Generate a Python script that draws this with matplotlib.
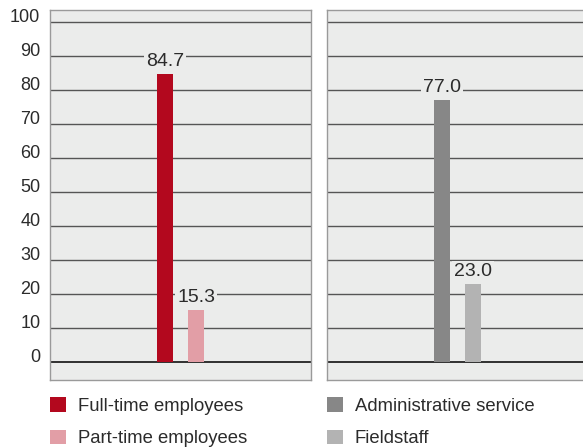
import matplotlib.pyplot as plt
from matplotlib.patches import Patch

plt.rcParams["font.family"] = ["Liberation Sans", "DejaVu Sans"]
plt.rcParams["font.size"] = 13
plt.rcParams["text.color"] = "#2b2b2b"

# employment type split (%)
left_labels = ["Full-time employees", "Part-time employees"]
left_values = [84.7, 15.3]
left_colors = ["#b3081e", "#e29ea6"]

# staff function split (%)
right_labels = ["Administrative service", "Fieldstaff"]
right_values = [77.0, 23.0]
right_colors = ["#878787", "#b3b3b3"]

y_ticks = [0, 10, 20, 30, 40, 50, 60, 70, 80, 90, 100]

PANEL_BG = "#ebeceb"
W, H = 583, 448

fig = plt.figure(figsize=(W / 100, H / 100), dpi=100)
fig.patch.set_facecolor("white")


def panel(x0, labels, values, colors, show_ticks):
    ax = fig.add_axes([x0 / W, (H - 380) / H, 261 / W, 370 / H])
    ax.set_facecolor(PANEL_BG)
    ax.set_xlim(-3.72, 4.70)
    ax.set_ylim(-5.3, 103.5)
    for t in y_ticks:
        ax.axhline(t, color="#111111" if t == 0 else "#555555",
                   lw=1.2 if t == 0 else 1.0, zorder=1)
    xs = range(len(values))
    ax.bar(xs, values, width=0.52, color=colors, zorder=2)
    for x, v in zip(xs, values):
        ax.annotate(f"{v:.1f}", (x, v), xytext=(0, 9), textcoords="offset points",
                    ha="center", va="center", fontsize=14, zorder=3,
                    bbox=dict(boxstyle="square,pad=0.1", facecolor=PANEL_BG,
                              edgecolor="none"))
    for s in ax.spines.values():
        s.set_color("#9a9a9a")
        s.set_linewidth(1.0)
    ax.set_xticks([])
    ax.tick_params(axis="y", length=0, pad=7)
    if show_ticks:
        ax.set_yticks(y_ticks)
        ax.set_yticklabels([str(t) for t in y_ticks])
        for lbl in ax.get_yticklabels():
            lbl.set_va("baseline")
            lbl.set_color("#2b2b2b")
    else:
        ax.set_yticks([])
    handles = [Patch(facecolor=c, label=l) for c, l in zip(colors, labels)]
    ax.legend(handles=handles, loc="upper left", bbox_to_anchor=(0, -0.047),
              frameon=False, borderaxespad=0, borderpad=0,
              handlelength=0.85, handleheight=0.85, handletextpad=0.65,
              labelspacing=0.78, fontsize=13.3)
    return ax


panel(50, left_labels, left_values, left_colors, True)
panel(327, right_labels, right_values, right_colors, False)

fig.savefig("out.png", dpi=100)
